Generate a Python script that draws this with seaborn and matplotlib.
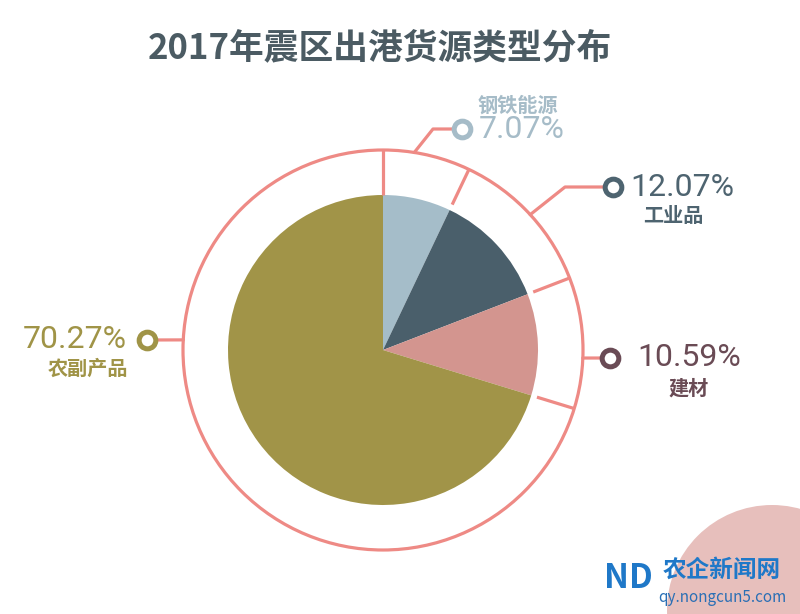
import matplotlib
matplotlib.use("Agg")
import matplotlib.pyplot as plt
import seaborn as sns
import numpy as np
from matplotlib.patches import Circle

# ---- data ----
categories = ["钢铁能源", "工业品", "建材", "农副产品"]
values = [7.07, 12.07, 10.59, 70.27]
pct_labels = ["7.07%", "12.07%", "10.59%", "70.27%"]
title = "2017年震区出港货源类型分布"

sns.set_theme(style="white")
plt.rcParams['font.family'] = ['Noto Sans CJK SC', 'DejaVu Sans']

pie_colors = sns.color_palette(["#A5BDC9", "#4A5F6B", "#D3958F", "#A19448"])
text_colors = ["#A6BCC8", "#4E6470", "#6A4B55", "#A09447"]
ring_color = "#EE8A85"

W, H = 800, 614
fig = plt.figure(figsize=(8, 6.14), dpi=100)
ax = fig.add_axes([0, 0, 1, 1])

def Y(y):
    return H - y

cx, cy = 383, Y(350)
R_pie, R_ring = 155, 200

ax.pie(values, colors=pie_colors, startangle=90, counterclock=False,
       radius=R_pie, center=(cx, cy), wedgeprops=dict(linewidth=0), frame=True)
ax.set_xlim(0, W)
ax.set_ylim(0, H)
ax.set_aspect('equal')
ax.axis('off')

# outer ring
ax.add_patch(Circle((cx, cy), R_ring, fill=False, lw=2.3, ec=ring_color, zorder=3))

# radial lines in ring at slice boundaries
cum = np.cumsum([0] + values)
bound_angles = 90 - 360 * cum / cum[-1]
for i, a in enumerate(bound_angles[:-1]):
    r0 = R_pie if i == 0 else R_pie + 6
    t = np.deg2rad(a)
    ax.plot([cx + r0 * np.cos(t), cx + R_ring * np.cos(t)],
            [cy + r0 * np.sin(t), cy + R_ring * np.sin(t)],
            color=ring_color, lw=2.3, zorder=3, solid_capstyle='butt')

# leader lines (image coords): start angle on ring, bend point, marker point
leaders = [
    (81.0, (433, 129), (462, 129)),
    (42.6, (565, 187), (613, 187)),
    (-2.3, None, (610, 358)),
    (177.1, None, (147, 340)),
]
for (ang, bend, mk), col in zip(leaders, text_colors):
    t = np.deg2rad(ang)
    xs = [cx + R_ring * np.cos(t)]
    ys = [cy + R_ring * np.sin(t)]
    if bend is not None:
        xs.append(bend[0]); ys.append(Y(bend[1]))
    xs.append(mk[0]); ys.append(Y(mk[1]))
    ax.plot(xs, ys, color=ring_color, lw=2.3, zorder=3)
    ax.plot([mk[0]], [Y(mk[1])], marker='o', ms=12, mew=3.6, mfc='white',
            mec=col, zorder=5)

# labels: (pct pos, pct ha, name pos, name ha)
num_font = ['Roboto', 'DejaVu Sans']
label_pos = [
    ((479, 129), 'left', (478, 105), 'left'),
    ((630, 187), 'left', (643, 215), 'left'),
    ((637, 358), 'left', (668, 388), 'left'),
    ((127, 340), 'right', (128, 368), 'right'),
]
for (pp, pha, npos, nha), pct, name, col in zip(label_pos, pct_labels, categories, text_colors):
    ax.text(pp[0], Y(pp[1]), pct, ha=pha, va='center', fontsize=23,
            color=col, family=num_font, fontweight='normal')
    ax.text(npos[0], Y(npos[1]), name, ha=nha, va='center', fontsize=14.5,
            color=col, fontweight='bold')

# title
ax.text(380, Y(48), title, ha='center', va='center', fontsize=25,
        fontweight='bold', color="#4B5B63")

# watermark
ax.add_patch(Circle((772, Y(610)), 105, color="#E6BCB9", alpha=0.95, lw=0, zorder=1))
ax.text(628, Y(578), "ND", ha='center', va='center', fontsize=24, fontweight='bold',
        fontstyle='italic', color="#1F78C8", zorder=6)
ax.text(722, Y(570), "农企新闻网", ha='center', va='center', fontsize=17,
        fontweight='bold', color="#1F78C8", zorder=6)
ax.text(722, Y(597), "qy.nongcun5.com", ha='center', va='center', fontsize=11,
        color="#2A6FB5", zorder=6)

fig.savefig("out.png", dpi=100, facecolor='white')
